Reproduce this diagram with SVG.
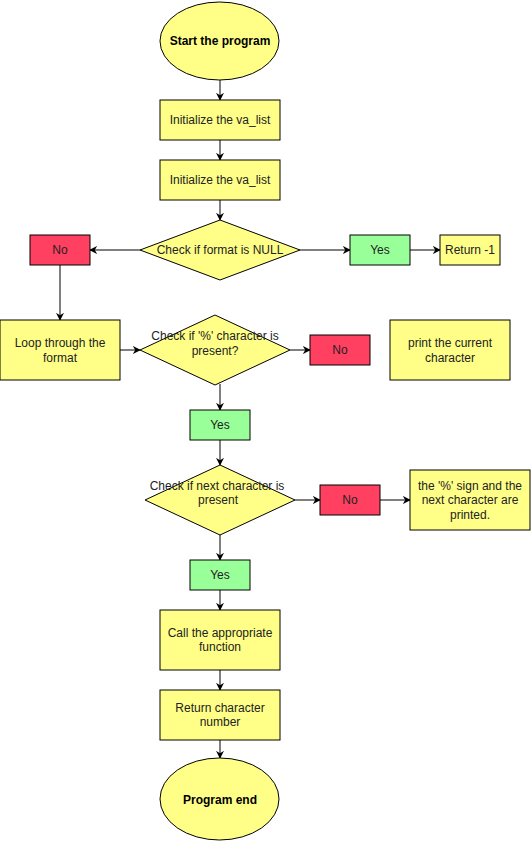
<svg xmlns="http://www.w3.org/2000/svg" width="531" height="841" viewBox="0 0 531 841">
<defs>
<marker id="arr" viewBox="0 0 10 10" refX="9" refY="5" markerWidth="8" markerHeight="8" markerUnits="userSpaceOnUse" orient="auto">
<path d="M0,0 L10,5 L0,10 L3,5 Z" fill="#000"/>
</marker>
<style>
.y{fill:#FFFF88;stroke:#000;stroke-width:1}
.r{fill:#FF4060;stroke:#000;stroke-width:1}
.g{fill:#99FF99;stroke:#000;stroke-width:1}
text{font-family:"Liberation Sans",Arial,sans-serif;font-size:12px;fill:#222;text-anchor:middle}
.b{font-weight:bold;fill:#000}
.c line, .c path{stroke:#000;stroke-width:1;fill:none;marker-end:url(#arr)}
</style>
</defs>
<rect width="531" height="841" fill="#fff"/>
<g class="c" id="connectors">
<line x1="220" y1="80" x2="220" y2="100"/>
<line x1="220" y1="140" x2="220" y2="160"/>
<line x1="220" y1="200" x2="220" y2="220"/>
<line x1="140" y1="250" x2="90" y2="250"/>
<line x1="300" y1="250" x2="350" y2="250"/>
<line x1="410" y1="250" x2="440" y2="250"/>
<line x1="60" y1="265" x2="60" y2="320"/>
<line x1="120" y1="350" x2="140" y2="350"/>
<line x1="290" y1="350" x2="310" y2="350"/>
<line x1="220" y1="384" x2="220" y2="410"/>
<line x1="220" y1="440" x2="220" y2="465"/>
<line x1="295" y1="500" x2="320" y2="500"/>
<line x1="380" y1="500" x2="410" y2="500"/>
<line x1="220" y1="535" x2="220" y2="560"/>
<line x1="220" y1="590" x2="220" y2="610"/>
<line x1="220" y1="670" x2="220" y2="690"/>
<line x1="220" y1="740" x2="220" y2="758"/>
</g>
<g id="start"><ellipse class="y" cx="219.5" cy="41" rx="59.5" ry="39"/><text class="b" x="220" y="45">Start the program</text></g>
<g id="init1"><rect class="y" x="160" y="100" width="120" height="40"/><text x="220" y="124">Initialize the va_list</text></g>
<g id="init2"><rect class="y" x="160" y="160" width="120" height="40"/><text x="220" y="184">Initialize the va_list</text></g>
<g id="checkNull"><polygon class="y" points="220,220 300,250 220,280 140,250"/><text x="220" y="254">Check if format is NULL</text></g>
<g id="no1"><rect class="r" x="30" y="235" width="60" height="30"/><text x="60" y="254">No</text></g>
<g id="yes1"><rect class="g" x="350" y="235" width="60" height="30"/><text x="380" y="254">Yes</text></g>
<g id="ret1"><rect class="y" x="440" y="235" width="60" height="30"/><text x="470" y="254">Return -1</text></g>
<g id="loop"><rect class="y" x="0" y="320" width="120" height="60"/><text x="60" y="347">Loop through the</text><text x="60" y="362">format</text></g>
<g id="checkPct"><polygon class="y" points="215,315 290,350 215,385 140,350"/><text x="215" y="340">Check if '%' character is</text><text x="215" y="355">present?</text></g>
<g id="no2"><rect class="r" x="310" y="335" width="60" height="30"/><text x="340" y="354">No</text></g>
<g id="printCur"><rect class="y" x="390" y="320" width="120" height="60"/><text x="450" y="347">print the current</text><text x="450" y="362">character</text></g>
<g id="yes2"><rect class="g" x="190" y="410" width="60" height="30"/><text x="220" y="429">Yes</text></g>
<g id="checkNext"><polygon class="y" points="220,465 295,500 220,535 145,500"/><text x="217" y="490">Check if next character is</text><text x="218" y="504">present</text></g>
<g id="no3"><rect class="r" x="320" y="485" width="60" height="30"/><text x="350" y="504">No</text></g>
<g id="printed"><rect class="y" x="410" y="470" width="120" height="60"/><text x="470" y="490">the '%' sign and the</text><text x="470" y="504">next character are</text><text x="470" y="519">printed.</text></g>
<g id="yes3"><rect class="g" x="190" y="560" width="60" height="30"/><text x="220" y="579">Yes</text></g>
<g id="call"><rect class="y" x="160" y="610" width="120" height="60"/><text x="220" y="637">Call the appropriate</text><text x="220" y="651">function</text></g>
<g id="retNum"><rect class="y" x="160" y="690" width="120" height="50"/><text x="220" y="712">Return character</text><text x="220" y="726">number</text></g>
<g id="end"><ellipse class="y" cx="219.5" cy="799" rx="59.5" ry="41"/><text class="b" x="220" y="804">Program end</text></g>
</svg>
